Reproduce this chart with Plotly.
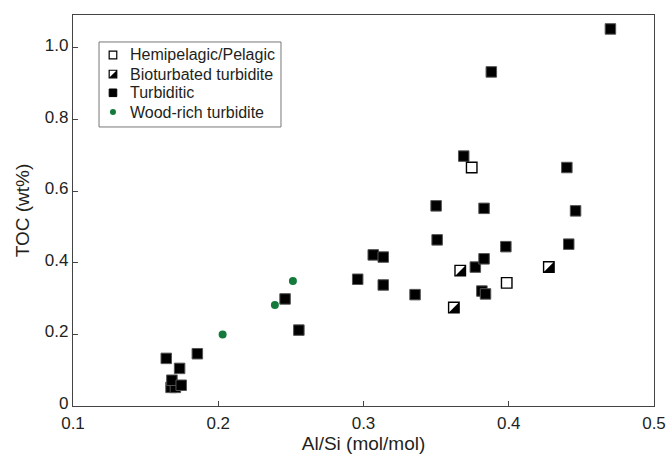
import plotly.graph_objects as go

# ---------------- data ----------------
turb_x = [0.1675, 0.1705, 0.1681, 0.1745, 0.1734, 0.1642, 0.1856, 0.2460, 0.2555,
          0.2960, 0.3067, 0.3136, 0.3136, 0.3355, 0.3500, 0.3507, 0.3690, 0.3770,
          0.3815, 0.3840, 0.3830, 0.3830, 0.3880, 0.3980, 0.4400, 0.4413, 0.4460, 0.4700]
turb_y = [0.052, 0.052, 0.072, 0.058, 0.105, 0.133, 0.146, 0.299, 0.212,
          0.354, 0.422, 0.416, 0.338, 0.311, 0.559, 0.464, 0.698, 0.388,
          0.321, 0.313, 0.411, 0.552, 0.933, 0.445, 0.666, 0.452, 0.545, 1.053]

hemi_x = [0.3745, 0.3986]
hemi_y = [0.666, 0.344]

bio_x = [0.3666, 0.3622, 0.4276]
bio_y = [0.378, 0.275, 0.388]

wood_x = [0.2030, 0.2390, 0.2514]
wood_y = [0.200, 0.282, 0.349]

legend_labels = ["Hemipelagic/Pelagic", "Bioturbated turbidite", "Turbiditic", "Wood-rich turbidite"]

x_tickvals = [0.1, 0.2, 0.3, 0.4, 0.5]
x_ticktext = ["0.1", "0.2", "0.3", "0.4", "0.5"]
y_tickvals = [0, 0.2, 0.4, 0.6, 0.8, 1.0]
y_ticktext = ["0", "0.2", "0.4", "0.6", "0.8", "1.0"]

x_title = "Al/Si (mol/mol)"
y_title = "TOC (wt%)"

# ---------------- style ----------------
FONT = "Liberation Sans, Arial, Helvetica, sans-serif"
TXT = "#231f20"
AX = "#444444"
GREEN = "#137a3b"

fig = go.Figure()

fig.add_trace(go.Scatter(
    x=turb_x, y=turb_y, mode="markers", name=legend_labels[2], showlegend=False,
    marker=dict(symbol="square", size=10.5, color="black", line=dict(color="#555555", width=1)),
))
fig.add_trace(go.Scatter(
    x=hemi_x, y=hemi_y, mode="markers", name=legend_labels[0], showlegend=False,
    marker=dict(symbol="square", size=10.5, color="white", line=dict(color="black", width=1.4)),
))
fig.add_trace(go.Scatter(
    x=bio_x, y=bio_y, mode="markers", name=legend_labels[1], showlegend=False,
    marker=dict(symbol="square", size=10.5, color="white", line=dict(color="black", width=1.4)),
))
fig.add_trace(go.Scatter(
    x=wood_x, y=wood_y, mode="markers", name=legend_labels[3], showlegend=False,
    marker=dict(symbol="circle", size=8, color=GREEN, line=dict(width=0)),
))

shapes = []
# half-filled (lower-right) triangles for bioturbated points, pixel-sized, anchored at data
h = 5.25
tri = f"M {-h},{-h} L {h},{-h} L {h},{h} Z"
for bx, by in zip(bio_x, bio_y):
    shapes.append(dict(type="path", xref="x", yref="y", xsizemode="pixel", ysizemode="pixel",
                       xanchor=bx, yanchor=by, path=tri, fillcolor="black",
                       line=dict(width=0), layer="above"))

# manual legend (paper coordinates)
lx0, lx1, ly0, ly1 = 0.0448, 0.358, 0.7136, 0.931
shapes.append(dict(type="rect", xref="paper", yref="paper", x0=lx0, x1=lx1, y0=ly0, y1=ly1,
                   line=dict(color="#777777", width=1), fillcolor="white", layer="above"))
item_y = [0.8977, 0.849, 0.801, 0.7519]
sym_x = 0.0688
text_x = 0.0947
s = 3.8
sq = f"M {-s},{-s} L {s},{-s} L {s},{s} L {-s},{s} Z"
trl = f"M {-s},{-s} L {s},{-s} L {s},{s} Z"
# open square
shapes.append(dict(type="path", xref="paper", yref="paper", xsizemode="pixel", ysizemode="pixel",
                   xanchor=sym_x, yanchor=item_y[0], path=sq, fillcolor="white",
                   line=dict(color="black", width=1.2), layer="above"))
# bioturbated
shapes.append(dict(type="path", xref="paper", yref="paper", xsizemode="pixel", ysizemode="pixel",
                   xanchor=sym_x, yanchor=item_y[1], path=sq, fillcolor="white",
                   line=dict(color="black", width=1.2), layer="above"))
shapes.append(dict(type="path", xref="paper", yref="paper", xsizemode="pixel", ysizemode="pixel",
                   xanchor=sym_x, yanchor=item_y[1], path=trl, fillcolor="black",
                   line=dict(width=0), layer="above"))
# turbiditic
shapes.append(dict(type="path", xref="paper", yref="paper", xsizemode="pixel", ysizemode="pixel",
                   xanchor=sym_x, yanchor=item_y[2], path=sq, fillcolor="black",
                   line=dict(color="black", width=1), layer="above"))
# wood-rich
shapes.append(dict(type="circle", xref="paper", yref="paper", xsizemode="pixel", ysizemode="pixel",
                   xanchor=sym_x, yanchor=item_y[3], x0=-3, x1=3, y0=-3, y1=3,
                   fillcolor=GREEN, line=dict(width=0), layer="above"))

annotations = []
for lab, yy in zip(legend_labels, item_y):
    annotations.append(dict(xref="paper", yref="paper", x=text_x, y=yy, text=lab,
                            showarrow=False, xanchor="left", yanchor="middle",
                            font=dict(family=FONT, size=16, color=TXT)))

fig.update_layout(
    width=668, height=457,
    margin=dict(l=73, r=14, t=15, b=51),
    paper_bgcolor="white", plot_bgcolor="white",
    font=dict(family=FONT, color=TXT),
    shapes=shapes, annotations=annotations,
    showlegend=False,
)
fig.update_xaxes(
    range=[0.1, 0.5], tickvals=x_tickvals, ticktext=x_ticktext,
    ticks="inside", ticklen=5, tickwidth=1, tickcolor=AX,
    showline=True, linecolor=AX, linewidth=1.2, mirror=True,
    showgrid=False, zeroline=False,
    tickfont=dict(family=FONT, size=17, color=TXT),
    ticklabelstandoff=1,
    title=dict(text=x_title, font=dict(family=FONT, size=19, color=TXT), standoff=5),
    automargin=False,
)
fig.update_yaxes(
    range=[0, 1.092], tickvals=y_tickvals, ticktext=y_ticktext,
    ticks="inside", ticklen=5, tickwidth=1, tickcolor=AX,
    showline=True, linecolor=AX, linewidth=1.2, mirror=True,
    showgrid=False, zeroline=False,
    tickfont=dict(family=FONT, size=17, color=TXT),
    ticklabelshift=-3,
    title=dict(text=y_title, font=dict(family=FONT, size=19, color=TXT), standoff=10),
    automargin=False,
)

fig.write_html("out.html")
